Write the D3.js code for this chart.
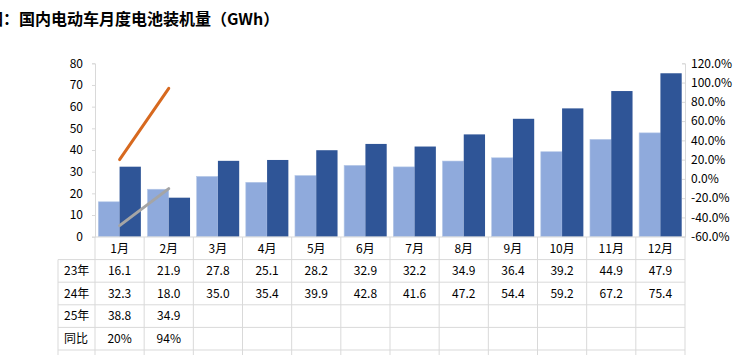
<!DOCTYPE html>
<html><head><meta charset="utf-8">
<script src="https://cdn.jsdelivr.net/npm/d3@7"></script>
<style>
html,body{margin:0;padding:0;background:#fff;}
svg{display:block;font-family:"Noto Sans CJK SC","Noto Sans",sans-serif;}
</style></head>
<body><svg id="c" width="739" height="355"></svg>
<script>
const months = ['1月','2月','3月','4月','5月','6月','7月','8月','9月','10月','11月','12月'];
const y23 = [16.1,21.9,27.8,25.1,28.2,32.9,32.2,34.9,36.4,39.2,44.9,47.9];
const y24 = [32.3,18.0,35.0,35.4,39.9,42.8,41.6,47.2,54.4,59.2,67.2,75.4];
const y25 = [38.8,34.9];
const yoy = [20,94];           // 同比 (%), orange, right axis
const mom = [-48.5,-10.1];      // 环比 (%), gray, right axis
const leftTicks = [0,10,20,30,40,50,60,70,80];
const rightTicks = [-60,-40,-20,0,20,40,60,80,100,120];
const rowLabels = ['23年','24年','25年','同比'];
const title = '图：国内电动车月度电池装机量（GWh）';

const svg = d3.select('#c');
const pL = 95, pR = 685, pT = 63.3, pB = 236.7;
const x = d3.scaleBand().domain(months).range([pL,pR]).padding(0);
const yL = d3.scaleLinear().domain([0,80]).range([pB,pT]);
const yR = d3.scaleLinear().domain([-60,120]).range([pB,pT]);
const xs = d3.scaleBand().domain(['23','24']).range([0,x.bandwidth()]).paddingInner(0).paddingOuter(0.155);

// title
svg.append('text').attr('x',-13).attr('y',25).attr('font-size',16).attr('font-weight','bold').attr('fill','#000').text(title);

const grid = '#d9d9d9';
// left axis
const gL = svg.append('g').attr('transform',`translate(${pL},0)`)
  .call(d3.axisLeft(yL).tickValues(leftTicks).tickSize(3).tickPadding(9));
gL.select('.domain').attr('stroke',grid);
gL.selectAll('.tick line').attr('stroke',grid);
gL.selectAll('.tick text').attr('font-size',12).attr('fill','#000').attr('font-family','"Noto Sans CJK SC",sans-serif');

// right axis
const gR = svg.append('g').attr('transform',`translate(${pR},0)`)
  .call(d3.axisLeft(yR).tickValues(rightTicks).tickSize(3).tickFormat(()=>''));
gR.select('.domain').attr('stroke',grid);
gR.selectAll('.tick line').attr('stroke',grid);
svg.append('g').selectAll('text').data(rightTicks).join('text')
  .attr('x',691).attr('y',d=>yR(d)).attr('dy','0.35em').attr('font-size',12).attr('fill','#000')
  .text(d=>d.toFixed(1)+'%');

// bars
const bars = svg.append('g');
bars.selectAll('.b23').data(months).join('rect')
  .attr('x',(d)=>x(d)+xs('23')).attr('width',xs.bandwidth())
  .attr('y',(d,i)=>yL(y23[i])).attr('height',(d,i)=>pB-yL(y23[i]))
  .attr('fill','#8faadc').attr('stroke','#b4c7e7').attr('stroke-width',0.6);
bars.selectAll('.b24').data(months).join('rect')
  .attr('x',(d)=>x(d)+xs('24')).attr('width',xs.bandwidth())
  .attr('y',(d,i)=>yL(y24[i])).attr('height',(d,i)=>pB-yL(y24[i]))
  .attr('fill','#2f5597');

// lines
const line = d3.line().x((d,i)=>x(months[i])+x.bandwidth()/2).y(d=>yR(d));
svg.append('path').datum(yoy).attr('d',line).attr('fill','none').attr('stroke','#d7691f').attr('stroke-width',3).attr('stroke-linecap','round');
svg.append('path').datum(mom).attr('d',line).attr('fill','none').attr('stroke','#a5a5a5').attr('stroke-width',3).attr('stroke-linecap','round');

// table
const rowH = 22.6, tTop = 237, labL = 58;
const tbl = svg.append('g');
const nRows = 5;
const rowsY = d3.range(nRows+2).map(i=>tTop+i*rowH);
rowsY.forEach((yy,i)=>{
  tbl.append('line').attr('x1', i===0 ? pL : labL).attr('x2',pR).attr('y1',yy).attr('y2',yy).attr('stroke',grid);
});
const colEdges = months.map(m=>x(m)).concat([pR]);
colEdges.forEach(xx=>{
  tbl.append('line').attr('x1',xx).attr('x2',xx).attr('y1',tTop).attr('y2',360).attr('stroke',grid);
});
tbl.append('line').attr('x1',labL).attr('x2',labL).attr('y1',tTop+rowH).attr('y2',360).attr('stroke',grid);
tbl.selectAll('.mh').data(months).join('text')
  .attr('x',d=>x(d)+x.bandwidth()/2).attr('y',tTop+rowH/2).attr('dy','0.35em')
  .attr('text-anchor','middle').attr('font-size',12).attr('fill','#000').text(d=>d);
rowLabels.forEach((lab,r)=>{
  tbl.append('text').attr('x',labL+6).attr('y',tTop+rowH*(r+1)+rowH/2).attr('dy','0.35em')
    .attr('font-size',12).attr('fill','#000').text(lab);
});
const rowsData = [y23.map(v=>v.toFixed(1)), y24.map(v=>v.toFixed(1)), y25.map(v=>v.toFixed(1)), yoy.map(v=>v+'%')];
rowsData.forEach((vals,r)=>{
  tbl.selectAll('.r'+r).data(vals).join('text')
    .attr('x',(d,i)=>x(months[i])+x.bandwidth()/2).attr('y',tTop+rowH*(r+1)+rowH/2).attr('dy','0.35em')
    .attr('text-anchor','middle').attr('font-size',12).attr('fill','#000').text(d=>d);
});
</script></body></html>
